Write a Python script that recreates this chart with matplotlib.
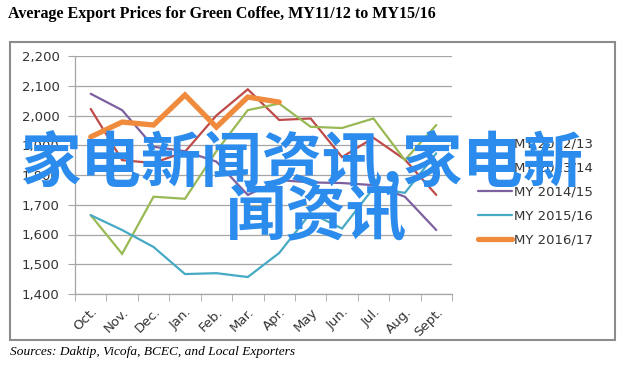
import matplotlib
matplotlib.use("Agg")
import matplotlib.pyplot as plt
from matplotlib.patches import Rectangle

# ---- data ----
months = ["Oct.", "Nov.", "Dec.", "Jan.", "Feb.", "Mar.", "Apr.", "May",
          "Jun.", "Jul.", "Aug.", "Sept."]

my_2012_13 = [2022, 1850, 1840, 1878, 2000, 2088, 1985, 1990, 1860, 1925, 1852, 1733]
my_2013_14 = [1665, 1535, 1727, 1720, 1880, 2018, 2040, 1962, 1958, 1990, 1850, 1968]
my_2014_15 = [2073, 2018, 1895, 1880, 1845, 1733, 1783, 1775, 1773, 1766, 1727, 1615]
my_2015_16 = [1665, 1615, 1558, 1467, 1470, 1457, 1538, 1672, 1620, 1756, 1740, 1873]
my_2016_17 = [1928, 1978, 1968, 2069, 1961, 2062, 2045]

series_names = ["MY 2012/13", "MY 2013/14", "MY 2014/15", "MY 2015/16", "MY 2016/17"]
series_colors = ["#BE4B48", "#98B954", "#7D60A0", "#46AAC5", "#F08A3C"]

W, H = 628, 372
fig = plt.figure(figsize=(W / 100, H / 100), dpi=100)

# outer chart frame
fig.patches.append(Rectangle((10 / W, 1 - 340 / H), 605 / W, 298 / H,
                             transform=fig.transFigure, fill=False,
                             edgecolor="#8C8C8C", linewidth=1.5))

ax = fig.add_axes([75 / W, 1 - 294 / H, 377 / W, 238 / H])

x = list(range(len(months)))
all_series = [my_2012_13, my_2013_14, my_2014_15, my_2015_16, my_2016_17]
for i, (vals, name, col) in enumerate(zip(all_series, series_names, series_colors)):
    lw = 3.8 if i == 4 else 1.6
    ax.plot(x[:len(vals)], vals, color=col, linewidth=lw, label=name,
            solid_capstyle="round", solid_joinstyle="miter", zorder=3)

ax.set_xlim(-0.5, len(months) - 0.5)
ax.set_ylim(1400, 2200)
ax.set_yticks(range(1400, 2201, 100))
ax.set_yticklabels([f"{v:,}" for v in range(1400, 2201, 100)], fontsize=9.5,
                   color="#333333")
ax.yaxis.grid(True, color="#A6A6A6", linewidth=0.9)
ax.set_axisbelow(True)

ax.set_xticks(x)
ax.set_xticklabels(months, rotation=45, ha="right", rotation_mode="anchor",
                   fontsize=9.5, color="#333333")
ax.set_xticks([i - 0.5 for i in range(len(months) + 1)], minor=True)
ax.tick_params(axis="x", which="major", length=0, pad=8)
ax.tick_params(axis="x", which="minor", length=5, color="#A6A6A6", direction="out")
ax.tick_params(axis="y", length=5, color="#A6A6A6", pad=6)

for s in ["top", "right"]:
    ax.spines[s].set_visible(False)
for s in ["left", "bottom"]:
    ax.spines[s].set_color("#A6A6A6")
    ax.spines[s].set_linewidth(0.9)

leg = ax.legend(loc="upper left", bbox_to_anchor=(1.069, 0.658), frameon=False,
                fontsize=9.5, handlelength=2.6, handletextpad=0.1,
                labelspacing=0.84, borderaxespad=0, borderpad=0)
for t in leg.get_texts():
    t.set_color("#333333")

fig.text(8 / W, 1 - 14 / H,
         "Average Export Prices for Green Coffee, MY11/12 to MY15/16",
         family="Liberation Serif", fontweight="bold", fontsize=11.5,
         ha="left", va="center")
fig.text(10 / W, 1 - 352 / H,
         "Sources: Daktip, Vicofa, BCEC, and Local Exporters",
         family="Liberation Serif", style="italic", fontsize=9.6,
         ha="left", va="center")

# watermark overlay
wm = dict(family=["Noto Sans CJK SC", "DejaVu Sans"], fontweight="bold",
          fontsize=43.5, color="#2B8CEE", va="center", zorder=10)
fig.text(20 / W, 1 - 162 / H, "家电新闻资讯,家电新", ha="left", **wm)
fig.text(226 / W, 1 - 217 / H, "闻资讯", ha="left", **wm)

fig.savefig("out.png", dpi=100)
